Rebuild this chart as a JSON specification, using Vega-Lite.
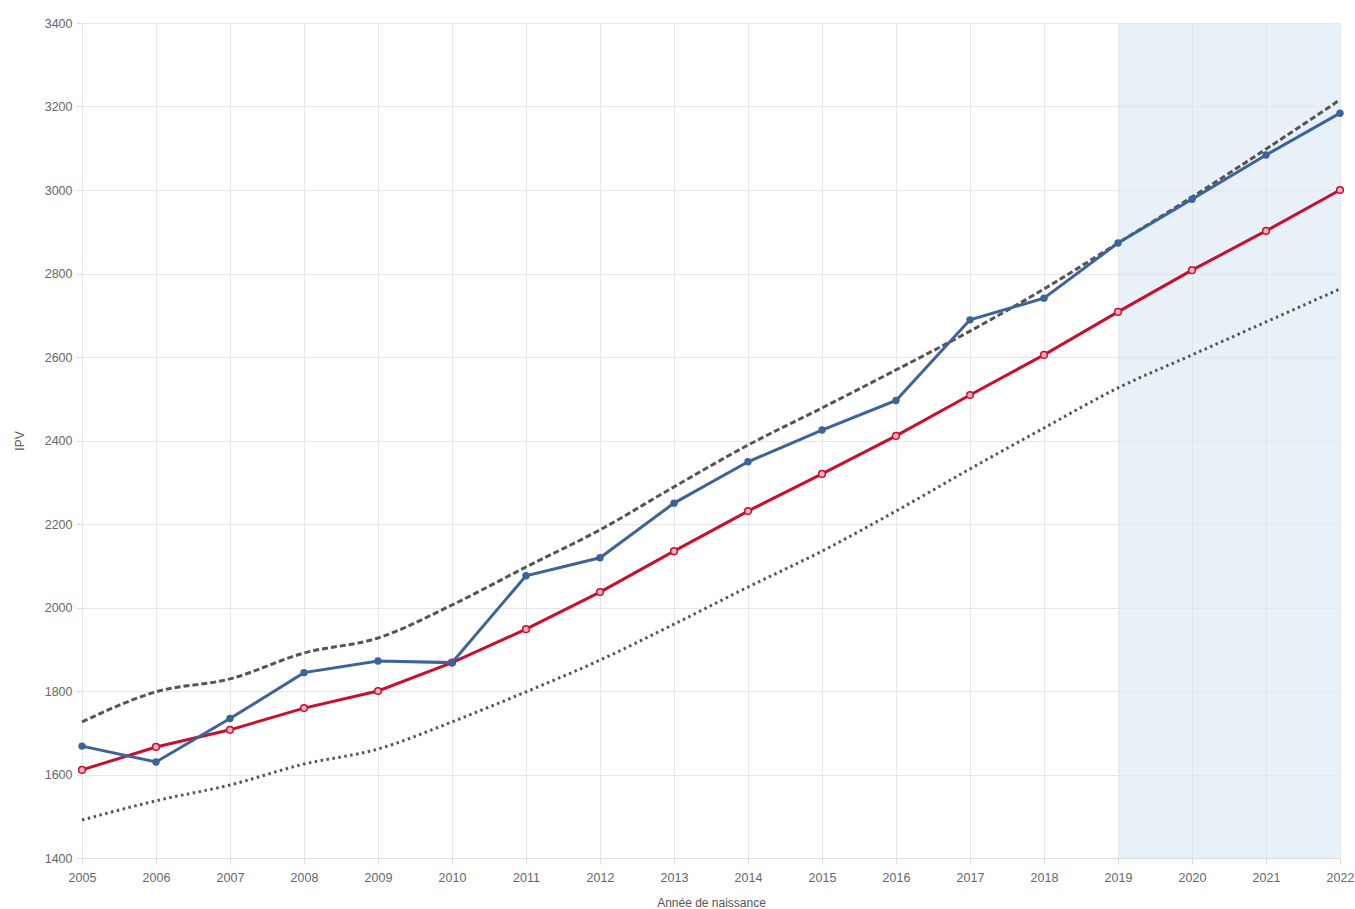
{
  "$schema": "https://vega.github.io/schema/vega-lite/v6.json",
  "width": 1258,
  "height": 835,
  "autosize": {"type": "none"},
  "padding": {"left": 82, "top": 23, "right": 15, "bottom": 51},
  "background": "white",
  "datasets": {
    "series": [
      {"year": 2005, "ipv": 1668, "ref": 1611, "upper": 1726, "lower": 1491},
      {"year": 2006, "ipv": 1630, "ref": 1666, "upper": 1798, "lower": 1537},
      {"year": 2007, "ipv": 1734, "ref": 1707, "upper": 1829, "lower": 1575},
      {"year": 2008, "ipv": 1844, "ref": 1759, "upper": 1891, "lower": 1625},
      {"year": 2009, "ipv": 1872, "ref": 1800, "upper": 1927, "lower": 1661},
      {"year": 2010, "ipv": 1868, "ref": 1868, "upper": 2006, "lower": 1726},
      {"year": 2011, "ipv": 2076, "ref": 1948, "upper": 2097, "lower": 1798},
      {"year": 2012, "ipv": 2119, "ref": 2037, "upper": 2186, "lower": 1874},
      {"year": 2013, "ipv": 2250, "ref": 2135, "upper": 2289, "lower": 1960},
      {"year": 2014, "ipv": 2349, "ref": 2231, "upper": 2389, "lower": 2049},
      {"year": 2015, "ipv": 2425, "ref": 2320, "upper": 2478, "lower": 2135},
      {"year": 2016, "ipv": 2496, "ref": 2411, "upper": 2569, "lower": 2231},
      {"year": 2017, "ipv": 2689, "ref": 2509, "upper": 2662, "lower": 2332},
      {"year": 2018, "ipv": 2741, "ref": 2605, "upper": 2763, "lower": 2430},
      {"year": 2019, "ipv": 2873, "ref": 2708, "upper": 2873, "lower": 2526},
      {"year": 2020, "ipv": 2978, "ref": 2808, "upper": 2983, "lower": 2605},
      {"year": 2021, "ipv": 3084, "ref": 2902, "upper": 3098, "lower": 2684},
      {"year": 2022, "ipv": 3184, "ref": 3000, "upper": 3216, "lower": 2763}
    ],
    "band": [{"start": 2019, "end": 2022}]
  },
  "config": {
    "view": {"stroke": null},
    "axis": {
      "labelFont": "Liberation Sans",
      "titleFont": "Liberation Sans",
      "labelFontSize": 12.5,
      "labelColor": "#666666",
      "titleColor": "#555555",
      "titleFontSize": 12,
      "titleFontWeight": "normal",
      "gridColor": "#e6e6e6",
      "gridWidth": 1,
      "tickColor": "#dddddd",
      "domainColor": "#dddddd",
      "tickSize": 6,
      "labelFlush": false
    }
  },
  "layer": [
    {
      "data": {"name": "band"},
      "mark": {"type": "rect", "fill": "#dbe7f4", "opacity": 0.6},
      "encoding": {
        "x": {"field": "start", "type": "quantitative", "scale": {"domain": [2005, 2022], "nice": false, "zero": false}},
        "x2": {"field": "end"}
      }
    },
    {
      "data": {"name": "series"},
      "mark": {"type": "line", "color": "#555555", "strokeWidth": 3, "strokeDash": [2.5, 3.5], "interpolate": "monotone"},
      "encoding": {
        "x": {
          "field": "year", "type": "quantitative",
          "scale": {"domain": [2005, 2022], "nice": false, "zero": false},
          "axis": {"title": "Année de naissance", "format": "d", "values": [2005,2006,2007,2008,2009,2010,2011,2012,2013,2014,2015,2016,2017,2018,2019,2020,2021,2022], "labelPadding": 7, "titlePadding": 14, "domain": true}
        },
        "y": {
          "field": "lower", "type": "quantitative",
          "scale": {"domain": [1400, 3400], "nice": false, "zero": false},
          "axis": {"title": "IPV", "format": "d", "values": [1400,1600,1800,2000,2200,2400,2600,2800,3000,3200,3400], "labelPadding": 4, "titlePadding": 18, "domain": false}
        }
      }
    },
    {
      "data": {"name": "series"},
      "mark": {"type": "line", "color": "#555555", "strokeWidth": 3, "strokeDash": [6, 3], "interpolate": "monotone"},
      "encoding": {
        "x": {"field": "year", "type": "quantitative"},
        "y": {"field": "upper", "type": "quantitative"}
      }
    },
    {
      "data": {"name": "series"},
      "mark": {"type": "line", "color": "#c8102e", "strokeWidth": 3},
      "encoding": {
        "x": {"field": "year", "type": "quantitative"},
        "y": {"field": "ref", "type": "quantitative"}
      }
    },
    {
      "data": {"name": "series"},
      "mark": {"type": "point", "shape": "circle", "size": 45, "filled": true, "fill": "#eeb0ba", "stroke": "#c8102e", "strokeWidth": 1.5, "opacity": 1},
      "encoding": {
        "x": {"field": "year", "type": "quantitative"},
        "y": {"field": "ref", "type": "quantitative"}
      }
    },
    {
      "data": {"name": "series"},
      "mark": {"type": "line", "color": "#3d6399", "strokeWidth": 3},
      "encoding": {
        "x": {"field": "year", "type": "quantitative"},
        "y": {"field": "ipv", "type": "quantitative"}
      }
    },
    {
      "data": {"name": "series"},
      "mark": {"type": "point", "shape": "circle", "size": 55, "filled": true, "color": "#3d6399", "opacity": 1},
      "encoding": {
        "x": {"field": "year", "type": "quantitative"},
        "y": {"field": "ipv", "type": "quantitative"}
      }
    }
  ]
}
